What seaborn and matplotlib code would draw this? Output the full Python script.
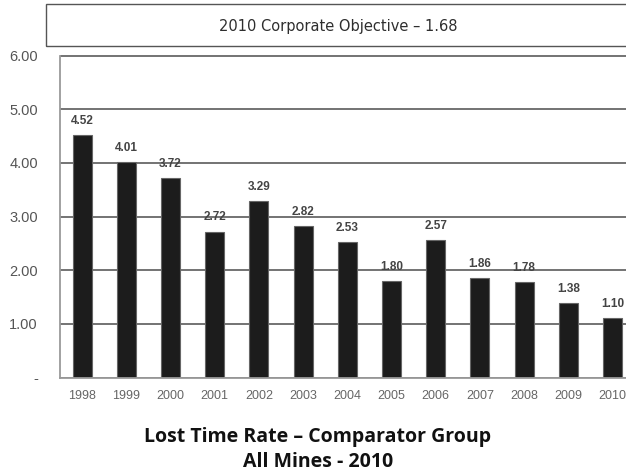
import matplotlib
matplotlib.use("Agg")
import matplotlib.pyplot as plt
import seaborn as sns
import pandas as pd
from matplotlib.patches import Rectangle
from matplotlib.ticker import FixedLocator

years = ['1998', '1999', '2000', '2001', '2002', '2003', '2004',
         '2005', '2006', '2007', '2008', '2009', '2010']
rates = [4.52, 4.01, 3.72, 2.72, 3.29, 2.82, 2.53, 1.80, 2.57, 1.86, 1.78, 1.38, 1.10]
ytick_vals = [0, 1, 2, 3, 4, 5, 6]
ytick_labels = ['-', '1.00', '2.00', '3.00', '4.00', '5.00', '6.00']

df = pd.DataFrame({'year': years, 'rate': rates})

sns.set_style("white")
plt.rcParams['font.family'] = ['Liberation Sans', 'DejaVu Sans']

fig = plt.figure(figsize=(6.26, 4.76), dpi=100)
W, H = 626, 476
left, right, top, bottom = 60, 60 + 13 * 44.2, 55.5, 377.5
ax = fig.add_axes([left / W, 1 - bottom / H, (right - left) / W, (bottom - top) / H])

sns.barplot(data=df, x='year', y='rate', color='#1c1c1c', edgecolor='#666666',
            linewidth=0.8, width=0.43, saturation=1, ax=ax)

ax.set_ylim(0, 6)
ax.set_xlim(-0.5, 12.5)
ax.set_yticks(ytick_vals)
ax.set_yticklabels(ytick_labels)
ax.yaxis.grid(True, color='#4d4d4d', linewidth=1.1)
ax.set_axisbelow(True)
ax.set_xlabel('')
ax.set_ylabel('')

for s in ['top', 'right']:
    ax.spines[s].set_visible(False)
for s in ['left', 'bottom']:
    ax.spines[s].set_color('#9a9a9a')
    ax.spines[s].set_linewidth(1.3)

ax.tick_params(axis='y', length=6, color='#9a9a9a', width=1.1, labelsize=10.5,
               labelcolor='#555555', pad=10)
ax.tick_params(axis='x', length=0, labelsize=9, labelcolor='#666666', pad=9)
ax.xaxis.set_minor_locator(FixedLocator([i - 0.5 for i in range(14)]))
ax.tick_params(axis='x', which='minor', length=5, color='#9a9a9a', width=1.2)

for i, v in enumerate(rates):
    ax.text(i, v + 0.15, f'{v:.2f}', ha='center', va='bottom', fontsize=8.5,
            fontweight='bold', color='#444444')

# objective box at top
fig.patches.append(Rectangle((46 / W, 1 - 46 / H), (640 - 46) / W, 42 / H,
                             transform=fig.transFigure, fill=False,
                             edgecolor='#555555', linewidth=1.0))
fig.text(338 / W, 1 - 27 / H, '2010 Corporate Objective \u2013 1.68', ha='center',
         va='center', fontsize=10.5, color='#2e2e2e', family=['DejaVu Sans'])

fig.text(318 / W, 1 - 437 / H, 'Lost Time Rate \u2013 Comparator Group', ha='center',
         va='center', fontsize=14, fontweight='bold', color='#111111', family=['Open Sans', 'DejaVu Sans'])
fig.text(318 / W, 1 - 462 / H, 'All Mines - 2010', ha='center',
         va='center', fontsize=14, fontweight='bold', color='#111111', family=['Open Sans', 'DejaVu Sans'])

fig.savefig('out.png', dpi=100)
